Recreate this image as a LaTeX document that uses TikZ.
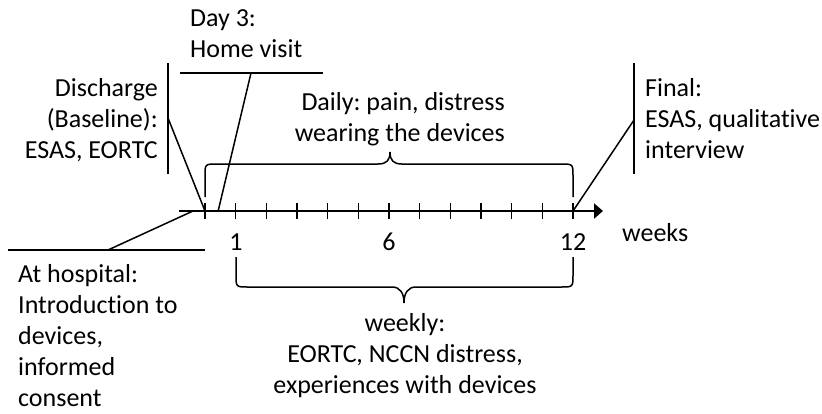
\documentclass[tikz,border=0pt]{standalone}
\usepackage{fontspec}
\setmainfont{Carlito}[Ligatures=NoCommon]
\frenchspacing
\usetikzlibrary{arrows.meta}
\begin{document}
\begin{tikzpicture}[x=1pt,y=-1pt,
  lbl/.style={inner sep=0pt, font=\fontsize{26}{31}\selectfont},
  leader/.style={line width=1.5pt},
  axisline/.style={line width=2.4pt, -{Triangle[length=9pt,width=15pt]}},
  tickmark/.style={line width=1.3pt},
  bracepath/.style={line width=1.5pt}]
\useasboundingbox (0,0) rectangle (822,413);

% time axis with weekly ticks
\coordinate (axstart) at (179,211);
\coordinate (axend) at (603,211);
\draw[axisline] (axstart) -- (axend);
\foreach \i in {0,...,12} {
  \coordinate (w\i) at ({205+\i*30.667},211);
  \draw[tickmark] ([yshift=-8pt]w\i) -- ([yshift=8pt]w\i);
}
\coordinate (d3) at ({205+3/7*30.667},211);
\coordinate (hosp) at (193,211);

% tick labels (base anchor = baseline of the last line)
\node[lbl, anchor=base] (t1) at (236,250) {1};
\node[lbl, anchor=base] (t6) at (389,250) {6};
\node[lbl, anchor=base] (t12) at (573,250) {12};
\node[lbl, anchor=base west] (weeks) at (622,241) {weeks};

% Day 3
\node[lbl, anchor=base west, align=left] (day3) at (190,57) {Day 3:\\Home visit};
\coordinate (day3a) at (180,73);
\coordinate (day3b) at (323,73);
\coordinate (day3c) at (251,73);
\draw[leader] (day3a) -- (day3b);
\draw[leader] (day3c) -- (d3);

% Discharge
\node[lbl, anchor=base east, align=right] (disch) at (158,158) {Discharge\\(Baseline):\\ESAS, EORTC};
\coordinate (discha) at (168,63);
\coordinate (dischb) at (168,174);
\coordinate (dischc) at (168,118);
\draw[leader] (discha) -- (dischb);
\draw[leader] (dischc) -- (w0);

% Final
\node[lbl, anchor=base west, align=left] (final) at (645,158) {Final:\\ESAS, qualitative\\interview};
\coordinate (finala) at (634,63);
\coordinate (finalb) at (634,174);
\coordinate (finalc) at (634,120);
\draw[leader] (finala) -- (finalb);
\draw[leader] (finalc) -- (w12);

% At hospital
\node[lbl, anchor=base west, align=left] (hospital) at (18,406.5) {At hospital:\\Introduction to\\devices,\\informed\\consent};
\coordinate (hospa) at (8,250);
\coordinate (hospb) at (205,250);
\coordinate (hospc) at (108,250);
\draw[leader] (hospa) -- (hospb);
\draw[leader] (hospc) -- (hosp);

% Daily brace above the axis
\node[lbl, anchor=base east, align=right] (daily) at (505,141.5) {Daily: pain, distress\\wearing the devices};
\draw[bracepath] (205,197) -- (205,176) .. controls (205,164) .. (217,164)
  -- (378,164) .. controls (387,164) and (390,160) .. (390,152)
  .. controls (390,160) and (393,164) .. (402,164)
  -- (561,164) .. controls (573,164) .. (573,176) -- (573,197);

% Weekly brace below the axis
\node[lbl, anchor=base, align=center] (weekly) at (405,393) {weekly:\\EORTC, NCCN distress,\\experiences with devices};
\draw[bracepath] (236,257) -- (236,275) .. controls (236,287) .. (248,287)
  -- (392,287) .. controls (400,287) and (404,293) .. (404,303)
  .. controls (404,293) and (408,287) .. (416,287)
  -- (561,287) .. controls (573,287) .. (573,275) -- (573,257);
\end{tikzpicture}
\end{document}
